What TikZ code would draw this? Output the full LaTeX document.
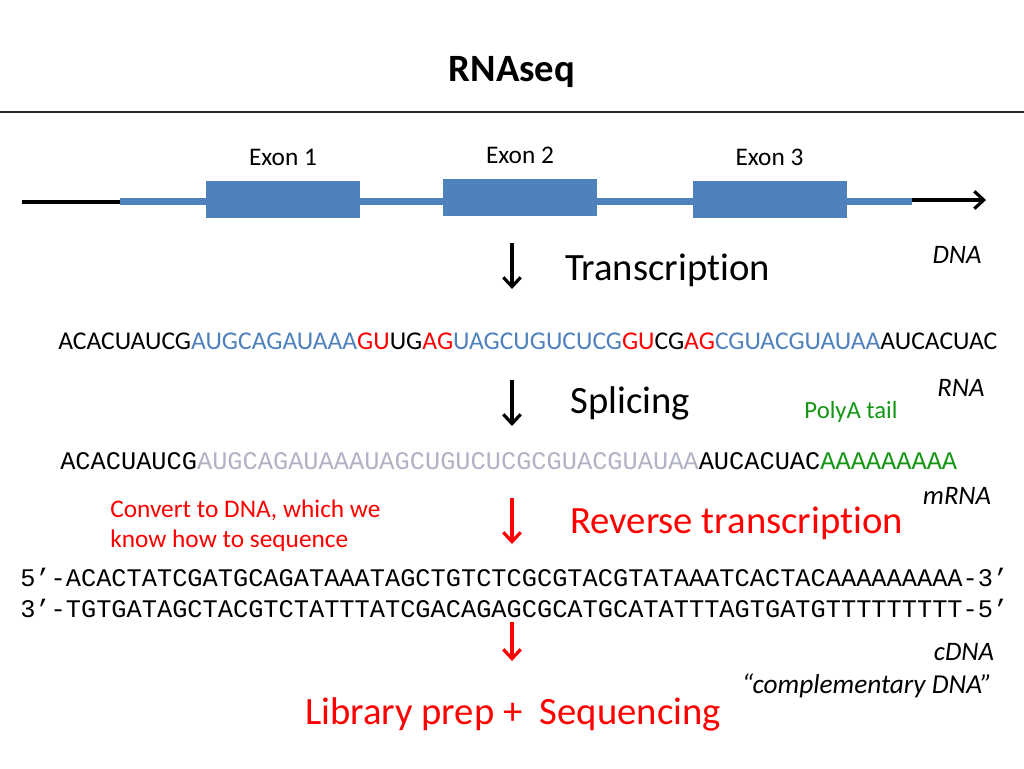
\documentclass[tikz,border=0pt]{standalone}
\usepackage{fontspec}
\setmainfont{Carlito}[Ligatures=NoCommon]
\newfontfamily\seqfont{Liberation Mono}
\usepackage{xcolor}
\usetikzlibrary{positioning, arrows.meta}

\definecolor{exonblue}{RGB}{79,129,189}
\definecolor{spliceRed}{RGB}{255,0,0}
\definecolor{tailGreen}{RGB}{20,150,20}
\definecolor{intronGray}{RGB}{178,178,198}

\tikzset{
  stepArrow/.style={line width=2.4pt, -{Straight Barb[length=7pt,width=13pt]}},
  big/.style={font=\fontsize{29}{34}\selectfont, inner sep=0pt},
  mid/.style={font=\fontsize{19}{22.5}\selectfont, inner sep=0pt},
  tag/.style={font=\fontsize{20}{24}\selectfont\itshape, inner sep=0pt},
  seq/.style={font=\seqfont\fontsize{19}{23}\selectfont, inner sep=0pt, anchor=west},
  exon/.style={fill=exonblue, minimum width=115.5pt, minimum height=27.75pt, inner sep=0pt},
}

\begin{document}
\begin{tikzpicture}[x=0.75pt, y=-0.75pt]
  \useasboundingbox (0,0) rectangle (1024,768);
  % Title
  \node[font=\bfseries\fontsize{29}{34}\selectfont, inner sep=0pt] (title) at (512,72) {RNAseq};
  \draw[line width=1pt, black!85] (0,112) -- (1024,112);

  % Gene
  \coordinate (geneStart) at (22,202);
  \coordinate (utrLeft) at (120,202);
  \coordinate (utrRight) at (912,200);
  \coordinate (geneEnd) at (986,200);
  \draw[line width=2.4pt] (geneStart) -- (utrLeft);
  \fill[exonblue] (120,198) rectangle (912,205);
  \draw[stepArrow] (utrRight) -- (geneEnd);
  \node[exon] (exon1) at (283,199.5) {};
  \node[exon] (exon2) at (520,197.5) {};
  \node[exon] (exon3) at (769.5,199.5) {};
  \node[mid, above=11pt of exon1] (exon1Label) {Exon 1};
  \node[mid, above=11pt of exon2] (exon2Label) {Exon 2};
  \node[mid, above=11pt of exon3] (exon3Label) {Exon 3};

  % Transcription
  \coordinate (transTop) at (512,243);
  \coordinate (transBot) at (512,289);
  \draw[stepArrow] (transTop) -- (transBot);
  \node[big, anchor=west] (transcription) at (565,270) {Transcription};
  \node[tag] (dnaTag) at (957,255) {DNA};

  % RNA
  \node[mid, anchor=west, font=\fontsize{19.2}{23}\selectfont] (rnaSeq) at (58,341) {ACACUAUCG\textcolor{exonblue}{AUGCAGAUAAA}\textcolor{spliceRed}{GU}UG\textcolor{spliceRed}{AG}\textcolor{exonblue}{UAGCUGUCUCG}\textcolor{spliceRed}{GU}CG\textcolor{spliceRed}{AG}\textcolor{exonblue}{CGUACGUAUAA}AUCACUAC};

  % Splicing
  \coordinate (spliceTop) at (512,380);
  \coordinate (spliceBot) at (512,426);
  \draw[stepArrow] (spliceTop) -- (spliceBot);
  \node[big, anchor=west] (splicing) at (570,403) {Splicing};
  \node[tag] (rnaTag) at (961,388) {RNA};
  \node[mid, tailGreen, font=\fontsize{18.5}{22}\selectfont] (polyTag) at (851,412) {PolyA tail};

  % mRNA
  \node[seq] (mrnaSeq) at (60,461) {ACACUAUCG\textcolor{intronGray}{AUGCAGAUAAAUAGCUGUCUCGCGUACGUAUAA}AUCACUAC\textcolor{tailGreen}{AAAAAAAAA}};
  \node[tag] (mrnaTag) at (957,496) {mRNA};

  % Reverse transcription
  \coordinate (rtTop) at (512,498);
  \coordinate (rtBot) at (512,544);
  \draw[stepArrow, spliceRed] (rtTop) -- (rtBot);
  \node[big, anchor=west, spliceRed] (revTrans) at (570,523) {Reverse transcription};
  \node[mid, spliceRed, anchor=west, align=left] (convertNote) at (110,526) {Convert to DNA, which we\\know how to sequence};

  % cDNA
  \node[seq] (topStrand) at (20,577) {5’-ACACTATCGATGCAGATAAATAGCTGTCTCGCGTACGTATAAATCACTACAAAAAAAAA-3’};
  \node[seq] (botStrand) at (20,608) {3’-TGTGATAGCTACGTCTATTTATCGACAGAGCGCATGCATATTTAGTGATGTTTTTTTTT-5’};

  % Sequencing
  \coordinate (seqTop) at (512,622);
  \coordinate (seqBot) at (512,661);
  \draw[stepArrow, spliceRed] (seqTop) -- (seqBot);
  \node[tag] (cdnaTag) at (964,652) {cDNA};
  \node[tag, font=\fontsize{20.5}{24}\selectfont\itshape] (compTag) at (867,686) {“complementary DNA”};
  \node[big, spliceRed] (libPrep) at (513,714) {Library prep +~ Sequencing};
\end{tikzpicture}
\end{document}
